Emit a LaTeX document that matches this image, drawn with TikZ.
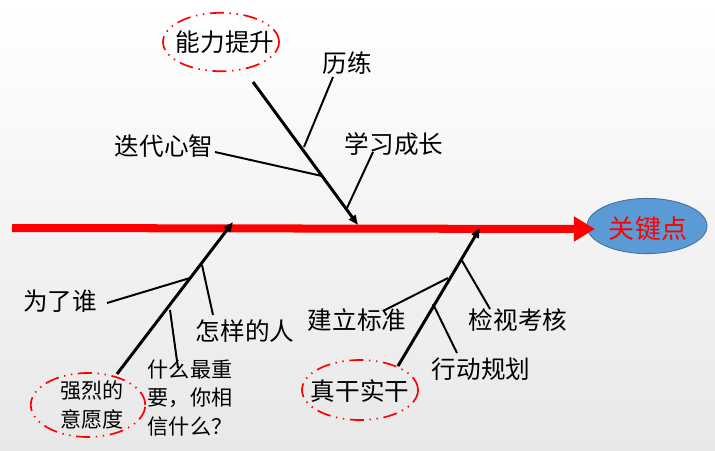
\documentclass[tikz,border=0pt]{standalone}
\usepackage{fontspec}
\setmainfont{Noto Sans CJK SC}
\usetikzlibrary{arrows.meta,shapes.geometric}
\definecolor{spinered}{HTML}{FF0000}
\definecolor{keyblue}{HTML}{5B9BD5}
\definecolor{keyedge}{HTML}{41719C}

\begin{document}
\begin{tikzpicture}[x=0.025cm,y=-0.025cm,
    bone/.style={line width=2.1pt,-{Triangle[length=7pt,width=5.5pt]}},
    twig/.style={line width=1.4pt},
    lbl/.style={font=\fontsize{17.5}{21}\selectfont,inner sep=1pt},
    note/.style={font=\fontsize{15}{20}\selectfont,align=left,inner sep=1pt},
    ring/.style={draw=spinered,line width=1.2pt,
      dash pattern=on 10pt off 4pt on 1pt off 4pt on 1pt off 4pt}]
    % background
    \shade[top color=white,bottom color=black!9] (0,0) rectangle (715,450);
    % head of the fish
    \filldraw[fill=keyblue,draw=keyedge,line width=0.6pt] (647,226) ellipse [x radius=1.5cm,y radius=0.69cm];
    \node[lbl,font=\fontsize{18.5}{22}\selectfont,text=spinered] (key) at (648,229) {关键点};
    \coordinate (tail) at (12,228);
    \coordinate (tip) at (595,229);
    \draw[spinered,line width=5.7pt,-{Triangle[length=15pt,width=17pt]}] (tail) -- (tip);

    % upper bone
    \node[lbl] (ability) at (225,42) {能力提升};
    \draw[ring] (221,42) ellipse [x radius=1.45cm,y radius=0.73cm];
    \coordinate (upS) at (253,82);
    \coordinate (upE) at (358,225);
    \draw[bone] (upS) -- (upE);
    \node[lbl] (train) at (347,63) {历练};
    \node[lbl] (mind) at (164,146) {迭代心智};
    \node[lbl] (learn) at (394,144) {学习成长};
    \coordinate (trainA) at (333,77);   \coordinate (trainB) at (304,147);
    \coordinate (mindA) at (215,152);   \coordinate (mindB) at (322,176);
    \coordinate (learnA) at (373,152);  \coordinate (learnB) at (347,208);
    \draw[twig] (trainA) -- (trainB);
    \draw[twig] (mindA) -- (mindB);
    \draw[twig] (learnA) -- (learnB);

    % lower left bone
    \node[font=\fontsize{15}{20}\selectfont,align=center,inner sep=1pt] (will) at (92,405) {强烈的\\意愿度};
    \draw[ring] (88,405) ellipse [x radius=1.43cm,y radius=0.8cm];
    \coordinate (loS) at (117,374);
    \coordinate (loE) at (233,222);
    \draw[bone] (loS) -- (loE);
    \node[lbl] (whom) at (60,301) {为了谁};
    \node[lbl] (who) at (245,331) {怎样的人};
    \node[note] (belief) at (190,398) {什么最重\\要，你相\\信什么？};
    \coordinate (whomA) at (107,303);   \coordinate (whomB) at (190,278);
    \coordinate (whoA) at (213,315);    \coordinate (whoB) at (202,265);
    \coordinate (beliefA) at (178,368); \coordinate (beliefB) at (170,310);
    \draw[twig] (whomA) -- (whomB);
    \draw[twig] (whoA) -- (whoB);
    \draw[twig] (beliefA) -- (beliefB);

    % lower right bone
    \node[lbl] (act) at (360,391) {真干实干};
    \draw[ring] (360,390) ellipse [x radius=1.45cm,y radius=0.75cm];
    \coordinate (riS) at (398,366);
    \coordinate (riE) at (480,228);
    \draw[bone] (riS) -- (riE);
    \node[lbl] (norm) at (357,320) {建立标准};
    \node[lbl] (check) at (518,320) {检视考核};
    \node[lbl] (plan) at (481,369) {行动规划};
    \coordinate (normA) at (383,311);  \coordinate (normB) at (448,278);
    \coordinate (checkA) at (490,309); \coordinate (checkB) at (461,259);
    \coordinate (planA) at (457,353);  \coordinate (planB) at (433,304);
    \draw[twig] (normA) -- (normB);
    \draw[twig] (checkA) -- (checkB);
    \draw[twig] (planA) -- (planB);
  \end{tikzpicture}
\end{document}
